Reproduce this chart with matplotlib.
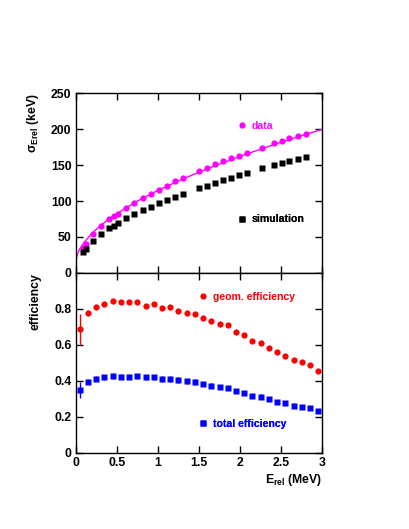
import matplotlib
matplotlib.use("Agg")
import matplotlib.pyplot as plt
from matplotlib.lines import Line2D

plt.rcParams['font.family'] = ['Liberation Sans', 'DejaVu Sans']
plt.rcParams['font.weight'] = 'bold'
plt.rcParams['mathtext.fontset'] = 'custom'
plt.rcParams['mathtext.rm'] = 'Liberation Sans'
plt.rcParams['mathtext.bf'] = 'Liberation Sans:bold'

# ---- top panel data ----
data_x = [0.085, 0.126, 0.215, 0.31, 0.41, 0.467, 0.51, 0.61, 0.71, 0.82, 0.915, 1.016,
          1.11, 1.207, 1.305, 1.5, 1.6, 1.695, 1.79, 1.89, 1.99, 2.085, 2.27, 2.41,
          2.507, 2.6, 2.7, 2.8]
data_y = [34.7, 40.7, 54.0, 64.7, 74.4, 78.6, 82.3, 90.7, 97.6, 104.6, 110.0, 115.7,
          121.3, 127.2, 132.4, 142.3, 146.2, 150.8, 155.0, 159.2, 163.0, 167.0, 174.0, 180.0,
          183.8, 187.0, 190.3, 193.5]
sim_y = [28.6, 33.3, 44.4, 53.6, 62.0, 65.7, 68.9, 75.8, 81.9, 87.0, 92.0, 97.2,
         101.8, 105.5, 110.3, 117.8, 121.3, 125.0, 129.2, 132.4, 135.6, 138.9, 145.3, 149.5,
         152.8, 155.0, 158.3, 161.1]
fit_x = [0.0, 0.02, 0.05, 0.1, 0.2, 0.3, 0.4, 0.6, 0.8, 1.0, 1.3, 1.6, 2.0, 2.4, 2.7, 3.0]
fit_y = [14.7, 25.9, 33.4, 42.2, 55.3, 65.7, 74.6, 89.8, 103.0, 114.7, 130.5, 144.8,
         162.1, 178.0, 189.1, 199.7]

# ---- bottom panel data ----
eff_x = [0.05, 0.15, 0.25, 0.35, 0.45, 0.55, 0.65, 0.75, 0.85, 0.95, 1.05, 1.15, 1.25,
         1.35, 1.45, 1.55, 1.65, 1.75, 1.85, 1.95, 2.05, 2.15, 2.25, 2.35, 2.45, 2.55,
         2.65, 2.75, 2.85, 2.95]
geom_eff = [0.687, 0.779, 0.813, 0.826, 0.843, 0.838, 0.838, 0.841, 0.819, 0.826, 0.806,
            0.808, 0.791, 0.780, 0.773, 0.748, 0.731, 0.717, 0.708, 0.672, 0.654, 0.622,
            0.611, 0.583, 0.559, 0.541, 0.517, 0.504, 0.487, 0.457]
geom_err = [0.085] + [0.008] * 29
tot_eff = [0.350, 0.396, 0.413, 0.420, 0.428, 0.424, 0.424, 0.426, 0.419, 0.420, 0.411,
           0.411, 0.404, 0.398, 0.394, 0.381, 0.374, 0.365, 0.361, 0.344, 0.333, 0.317,
           0.313, 0.298, 0.283, 0.276, 0.263, 0.256, 0.248, 0.232]
tot_err = [0.046] + [0.015] * 14 + [0.012] * 15

fig = plt.figure(figsize=(4.09, 5.29), dpi=100)
ax1 = fig.add_axes([0.185, 0.484, 0.603, 0.340])
ax2 = fig.add_axes([0.185, 0.144, 0.603, 0.340])

fs = 8.8
lfs = 7.6
for ax in (ax1, ax2):
    ax.set_xlim(0, 3)
    ax.tick_params(direction='in', top=True, right=True, length=5, width=1,
                   labelsize=fs, pad=3)
    for s in ax.spines.values():
        s.set_linewidth(1)

ms = 4.5
ax1.plot(fit_x, fit_y, color='#ff00ff', lw=1)
ax1.plot(data_x, data_y, 'o', color='#ff00ff', ms=ms, mec='none')
ax1.plot(data_x, sim_y, 's', color='black', ms=ms - 0.3, mec='none')
ax1.set_ylim(0, 250)
ax1.set_yticks([0, 50, 100, 150, 200, 250])
ax1.set_xticks([0, 0.5, 1, 1.5, 2, 2.5, 3])
ax1.tick_params(labelbottom=False)
ax1.set_ylabel(r'$\mathrm{σ}_{\mathbf{Erel}}$ (keV)', fontsize=fs, fontweight='bold')

ax2.errorbar(eff_x, geom_eff, yerr=geom_err, fmt='o', color='#ff0000', ms=ms,
             mec='none', elinewidth=1, capsize=0)
ax2.errorbar(eff_x, tot_eff, yerr=tot_err, fmt='s', color='#0000ff', ms=ms - 0.3,
             mec='none', elinewidth=1, capsize=0)
ax2.set_ylim(0, 1)
ax2.set_yticks([0, 0.2, 0.4, 0.6, 0.8])
ax2.set_yticklabels(['0', '0.2', '0.4', '0.6', '0.8'])
ax2.set_xticks([0, 0.5, 1, 1.5, 2, 2.5, 3])
ax2.set_xticklabels(['0', '0.5', '1', '1.5', '2', '2.5', '3'])
for lab in ax2.get_xticklabels() + ax2.get_yticklabels() + ax1.get_yticklabels():
    lab.set_fontweight('bold')
ax2.set_ylabel('efficiency', fontsize=fs, fontweight='bold')
ax2.yaxis.set_label_coords(-0.14, 0.84)
ax1.yaxis.set_label_coords(-0.14, 0.835)
ax2.set_xlabel(r'E$_{\mathbf{rel}}$ (MeV)', fontsize=fs, fontweight='bold',
               loc='right', labelpad=2)


def tag(ax, marker, color, label, x, y):
    h = Line2D([], [], marker=marker, color=color, ls='none', ms=ms, mec='none')
    leg = ax.legend(handles=[h], labels=[label], loc='center left',
                    bbox_to_anchor=(x, y), frameon=False, handlelength=1.0,
                    handletextpad=0.4, borderpad=0, borderaxespad=0,
                    prop={'size': lfs, 'weight': 'bold'})
    for t in leg.get_texts():
        t.set_color(color)
    ax.add_artist(leg)


tag(ax1, 'o', '#ff00ff', 'data', 0.655, 0.817)
tag(ax1, 's', 'black', 'simulation', 0.655, 0.298)
tag(ax2, 'o', '#ff0000', 'geom. efficiency', 0.495, 0.868)
tag(ax2, 's', '#0000ff', 'total efficiency', 0.495, 0.16)

fig.savefig('out.png', dpi=100)
